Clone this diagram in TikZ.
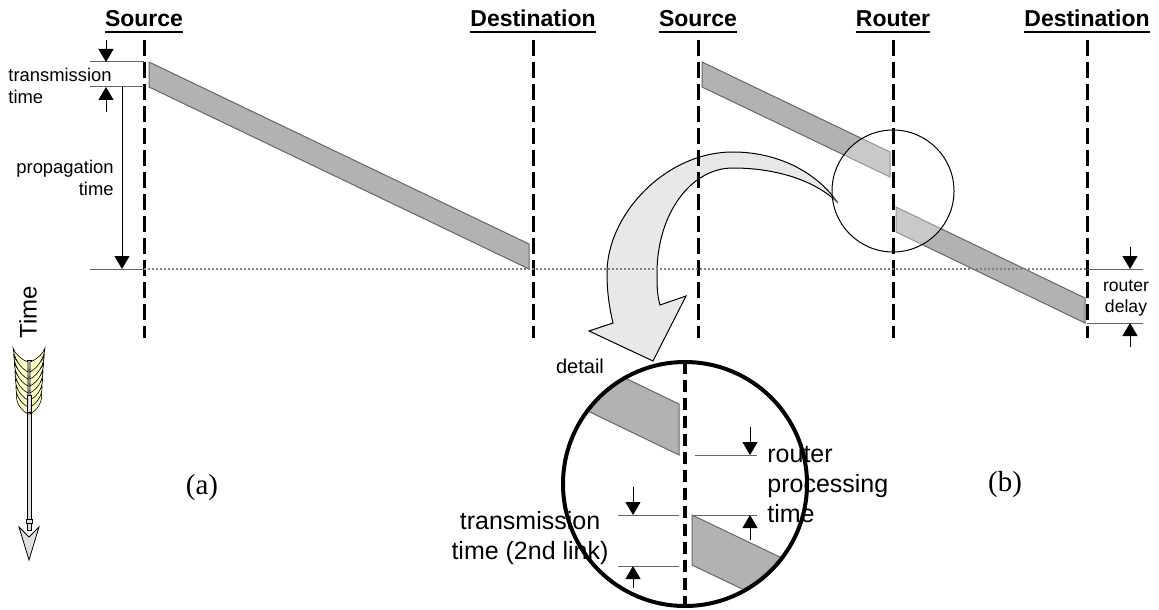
\documentclass[tikz,border=0pt]{standalone}
\usepackage{fontspec}
\setmainfont{Liberation Serif}
\setsansfont{Liberation Sans}
\usetikzlibrary{arrows.meta,positioning,calc}
\definecolor{packetgray}{HTML}{B2B2B2}
\definecolor{pointergray}{HTML}{E8E8E8}
\definecolor{feather}{HTML}{FFFFC8}

\begin{document}
\begin{tikzpicture}[
    x=0.5pt, y=-0.5pt,
    head/.style={font=\sffamily\bfseries\fontsize{11.5}{13}\selectfont, inner sep=0pt, anchor=base},
    note/.style={font=\sffamily\fontsize{9.2}{11}\selectfont, inner sep=0pt},
    zoomnote/.style={font=\sffamily\fontsize{12.5}{15}\selectfont, inner sep=0pt},
    caption/.style={font=\fontsize{14.5}{16}\selectfont, inner sep=0pt},
    timeline/.style={line width=1.5pt, dash pattern=on 8pt off 3pt},
    packet/.style={fill=packetgray, draw=black!60, line width=0.5pt},
    dimline/.style={draw=black!60, line width=0.5pt},
    dimarrow/.style={-{Triangle[length=6.5pt,width=7.5pt]}, line width=0.5pt},
    shaftpart/.style={fill=gray!25, draw=black, line width=0.4pt}
]
\useasboundingbox (0,0) rectangle (1159,609);

% curved pointer from the lens to the detail
\draw[fill=pointergray, line width=0.5pt] (838,203) .. controls (815,170) and (775,152) .. (733,152)
  .. controls (665,152) and (607,215) .. (607,273) .. controls (607,295) and (610,310) .. (613,323)
  -- (589,331) -- (653,361) -- (686,296) -- (660,305)
  .. controls (657,295) and (657,285) .. (657,273) .. controls (657,215) and (690,168) .. (733,168)
  .. controls (775,168) and (815,180) .. (838,203) -- cycle;

% station headers
\foreach \x/\name/\txt in {144/srcA/Source, 533/dstA/Destination, 698/srcB/Source, 893/rtr/Router, 1087/dstB/Destination}{
  \node[head] (\name) at (\x,27) {\txt};
  \draw[line width=1pt] ([yshift=-2.3pt]\name.base west) -- ([yshift=-2.3pt]\name.base east);
  \coordinate (\name-top) at (\x,40);
  \coordinate (\name-bot) at (\x,338);
}

% packets
\draw[packet] (149,62) -- (529,244) -- (529,269) -- (149,87) -- cycle;
\draw[packet] (702,62) -- (890,152) -- (890,177) -- (702,87) -- cycle;
\draw[packet] (896,207) -- (1085,298) -- (1085,323) -- (896,232) -- cycle;

\coordinate (lens) at (893,191);
\draw[fill=white, fill opacity=0.3, line width=0.5pt] (lens) circle[radius=30.5pt];

\foreach \name in {srcA,dstA,srcB,rtr,dstB}
  \draw[timeline] (\name-top) -- (\name-bot);

\coordinate (arrA) at (144,269);
\coordinate (arrB) at (1087,269);
\draw[gray, line width=0.6pt, dash pattern=on 1.2pt off 0.8pt] (arrA) -- (arrB);

% (a) dimensions
\coordinate (txA1) at (90,62);
\coordinate (txA2) at (90,87);
\coordinate (propA) at (90,269);
\draw[dimline] (txA1) -- (srcA |- txA1);
\draw[dimline] (txA2) -- (srcA |- txA2);
\draw[dimline] (propA) -- (arrA);
\draw[dimarrow] (106,40) -- (106,62);
\draw[dimarrow] (106,112) -- (106,87);
\draw[dimarrow] (122,87) -- (122,269);
\node[note, anchor=west, align=left] (txLbl) at (8,86) {transmission\\time};
\node[note, anchor=east, align=right] (propLbl) at (114,178) {propagation\\time};

% router delay
\coordinate (rdEnd1) at (1143,269);
\coordinate (rdEnd2) at (1143,323);
\draw[dimline] (arrB) -- (rdEnd1);
\draw[dimline] (dstB |- rdEnd2) -- (rdEnd2);
\draw[dimarrow] (1130,247) -- (1130,269);
\draw[dimarrow] (1130,347) -- (1130,323);
\node[note, font=\sffamily\fontsize{8.8}{10.2}\selectfont, align=center] (rdLbl) at (1126,298) {router\\delay};

% time arrow
\draw[shaftpart] (27,360) rectangle (31,530);
\draw[shaftpart] (26,519) rectangle (32,523);
\draw[shaftpart] (29,560) -- (19,527) -- (29,537) -- (39,527) -- cycle;
\foreach \i in {6,5,...,0}{
  \draw[fill=feather, line width=0.3pt] (28,362+7*\i) .. controls (22,360+7*\i) and (15,354+7*\i) .. (13+0.7*\i,348+7*\i)
    .. controls (14,358+7*\i) and (20,368+7*\i) .. (28,372+7*\i) -- cycle;
  \draw[fill=feather, line width=0.3pt] (30,362+7*\i) .. controls (36,360+7*\i) and (43,354+7*\i) .. (45-0.7*\i,348+7*\i)
    .. controls (44,358+7*\i) and (38,368+7*\i) .. (30,372+7*\i) -- cycle;
}
\draw[shaftpart] (27,395) rectangle (31,412);
\node[font=\sffamily\fontsize{12}{14}\selectfont, rotate=90, inner sep=0pt] (timeLbl) at (28,312) {Time};

\node[caption] (capA) at (202,488) {(a)};
\node[caption] (capB) at (1005,485) {(b)};

% detail
\coordinate (detail) at (685,484);
\begin{scope}
  \clip (detail) circle[radius=61pt];
  \draw[packet] (540,337) -- (679,404) -- (679,455) -- (540,388) -- cycle;
  \draw[packet] (692,515) -- (830,581) -- (830,631) -- (692,565) -- cycle;
\end{scope}
\draw[line width=2pt] (detail) circle[radius=61pt];
\draw[line width=1.75pt, dash pattern=on 6pt off 3pt] (685,362) -- (685,606);
\node[font=\sffamily\fontsize{10}{12}\selectfont, inner sep=0pt] (detailLbl) at (580,366) {detail};

\draw[dimline] (695,455) -- (757,455);
\draw[dimline] (692,515) -- (757,515);
\draw[dimarrow] (750,427) -- (750,455);
\draw[dimarrow] (750,540) -- (750,515);
\node[zoomnote, anchor=west, align=left] (procLbl) at (767,485) {router\\processing\\time};

\draw[dimline] (618,515) -- (679,515);
\draw[dimline] (618,566) -- (679,566);
\draw[dimarrow] (633,487) -- (633,515);
\draw[dimarrow] (633,588) -- (633,566);
\node[zoomnote, align=center] (tx2Lbl) at (530,538) {transmission\\time (2nd link)};
\end{tikzpicture}
\end{document}
